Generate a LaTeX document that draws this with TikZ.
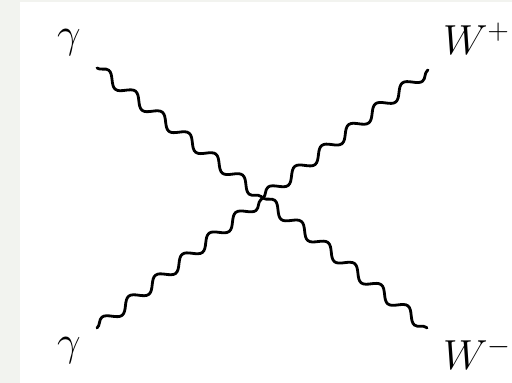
\documentclass[tikz,border=0pt]{standalone}
\usepackage{fix-cm}
\usetikzlibrary{decorations.pathmorphing}
\definecolor{pagegray}{RGB}{242,243,239}

\begin{document}
\begin{tikzpicture}[x=1pt, y=1pt,
  boson/.style={decorate, decoration={snake, segment length=34pt, amplitude=5.5pt},
                line width=2.8pt, line cap=round},
  lbl/.style={font=\fontsize{42}{46}\selectfont, inner sep=0pt, anchor=base west}]

  % page
  \fill[pagegray] (0,0) rectangle (512,383);
  \fill[white] (20,0) rectangle (512,381);
  \useasboundingbox (0,0) rectangle (512,383);

  % vertex and external legs
  \coordinate (vtx) at (263,185);
  \coordinate (gin1) at (97,315);
  \coordinate (gin2) at (97,55);
  \coordinate (wplus) at (428,313);
  \coordinate (wminus) at (427,55);

  \draw[boson] (gin1) -- (vtx);
  \draw[boson] (gin2) -- (vtx);
  \draw[boson] (vtx) -- (wplus);
  \draw[boson] (vtx) -- (wminus);

  % labels
  \node[lbl] (lgin1) at (57,335) {$\gamma$};
  \node[lbl] (lgin2) at (57,27) {$\gamma$};
  \node[lbl] (lwplus) at (443,328) {$W^+$};
  \node[lbl] (lwminus) at (443,13) {$W^-$};
\end{tikzpicture}
\end{document}
